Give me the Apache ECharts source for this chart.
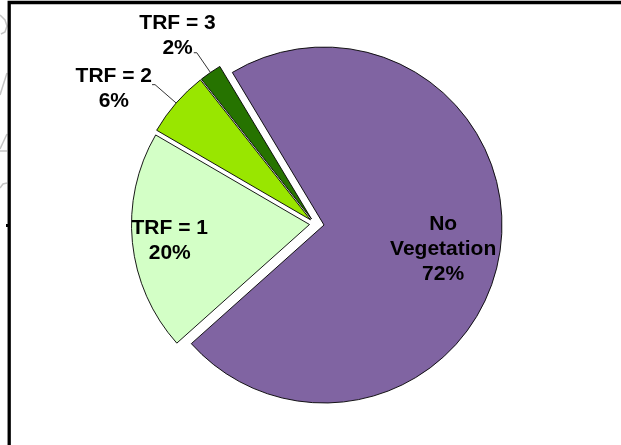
<!DOCTYPE html>
<html>
<head>
<meta charset="utf-8">
<script src="https://cdn.jsdelivr.net/npm/echarts@6/dist/echarts.min.js"></script>
<style>
  html, body { margin: 0; padding: 0; background: #ffffff; overflow: hidden; width: 621px; height: 445px; }
  #chart { width: 621px; height: 445px; }
</style>
</head>
<body>
<div id="chart"></div>
<script>
// Share of area by tree-regeneration class (TRF)
const categories = ['No\nVegetation', 'TRF = 1', 'TRF = 2', 'TRF = 3'];
const shares = [72, 20, 6, 2];

// Styling per slice
const sliceColors = ['#8064A2', '#D3FFC6', '#99E600', '#267300'];
// each wedge is pulled out of the pie on its own, so each gets its own centre
const sliceCenters = [[324, 225], [309.5, 224.5], [310.5, 219.8], [311.5, 219]];
const labelInside = [true, true, false, false];
const labelRingInner = [0.32, 0.545, 0, 0]; // inner radius of the ring that carries an inside label
const labelPadding = [[13, 0, 0, 0], [5, 0, 0, 0], [8, 0, 0, 0], [0, 0, 34, 0]];
const labelGap = [5, 5, 0, -22];             // distance from leader end to text
const leaderLen = [0, 0, 28, 24];
const leaderLen2 = [0, 0, 3, 3];

const R = 178;
const START_ANGLE = 121;
const FONT = '"Liberation Sans", Arial, Helvetica, sans-serif';

const hidden = {
  itemStyle: { color: 'rgba(0,0,0,0)', borderWidth: 0 },
  label: { show: false },
  labelLine: { show: false }
};

function baseSeries(idx, radius) {
  return {
    type: 'pie',
    center: sliceCenters[idx],
    radius: radius,
    startAngle: START_ANGLE,
    clockwise: true,
    avoidLabelOverlap: false,
    silent: true,
    animation: false,
    emphasis: { disabled: true },
    label: { show: false },
    labelLine: { show: false }
  };
}

// One series per wedge: the full data set keeps the angles, only one wedge is painted
function sliceSeries(idx) {
  const s = baseSeries(idx, [0, R]);
  s.data = shares.map((v, i) => i === idx ? {
    name: categories[i], value: v,
    itemStyle: { color: sliceColors[i], borderColor: '#000', borderWidth: 0.9 },
    label: { show: false }, labelLine: { show: false }
  } : Object.assign({ name: categories[i], value: v }, hidden));
  return s;
}

// Transparent ring that places the label of one wedge
function labelSeries(idx) {
  const s = baseSeries(idx, [labelRingInner[idx] * R, R]);
  const textStyle = { fontFamily: FONT, fontSize: 21, fontWeight: 'bold', color: '#000', lineHeight: 25, align: 'center' };
  s.data = shares.map((v, i) => i === idx ? {
    name: categories[i], value: v,
    itemStyle: { color: 'rgba(0,0,0,0)', borderWidth: 0 },
    label: {
      show: true,
      position: labelInside[i] ? 'inside' : 'outside',
      distanceToLabelLine: labelGap[i],
      padding: labelPadding[i],
      formatter: p => (p.name + '\n' + p.value + '%').split('\n').map(t => '{t|' + t + '}').join('\n'),
      rich: { t: textStyle }
    },
    labelLine: labelInside[i] ? { show: false } : {
      show: true, length: leaderLen[i], length2: leaderLen2[i], smooth: false,
      lineStyle: { color: '#000', width: 0.8 }
    }
  } : Object.assign({ name: categories[i], value: v }, hidden));
  return s;
}

const series = [];
shares.forEach((_, i) => series.push(sliceSeries(i)));
shares.forEach((_, i) => series.push(labelSeries(i)));

const chart = echarts.init(document.getElementById('chart'), null, { renderer: 'canvas' });
chart.setOption({
  backgroundColor: '#ffffff',
  animation: false,
  graphic: [
    // chart frame: only its left and top edges fall inside the view
    { type: 'polyline', silent: true, z: 10,
      shape: { points: [[9.2, 445], [9.2, 2.5], [621, 2.5]] },
      style: { fill: 'none', stroke: '#000', lineWidth: 3.3 } },
    { type: 'rect', silent: true, z: 10, shape: { x: 6, y: 224, width: 3, height: 3 }, style: { fill: '#000' } },
    // faint strokes of the page behind, left of the frame
    { type: 'polyline', silent: true, shape: { points: [[0, 15], [5, 20], [7, 26], [5, 32], [1, 34]] }, style: { stroke: '#c4c4c4', lineWidth: 1.5, fill: 'none' } },
    { type: 'polyline', silent: true, shape: { points: [[0, 95], [7, 73]] }, style: { stroke: '#c4c4c4', lineWidth: 1.5, fill: 'none' } },
    { type: 'polyline', silent: true, shape: { points: [[0, 149], [7, 134]] }, style: { stroke: '#c4c4c4', lineWidth: 1.5, fill: 'none' } },
    { type: 'polyline', silent: true, shape: { points: [[0, 151], [7, 151]] }, style: { stroke: '#c4c4c4', lineWidth: 1.5, fill: 'none' } },
    { type: 'polyline', silent: true, shape: { points: [[0, 188], [3, 184], [7, 183]] }, style: { stroke: '#c4c4c4', lineWidth: 1.5, fill: 'none' } }
  ],
  series: series
});
</script>
</body>
</html>
